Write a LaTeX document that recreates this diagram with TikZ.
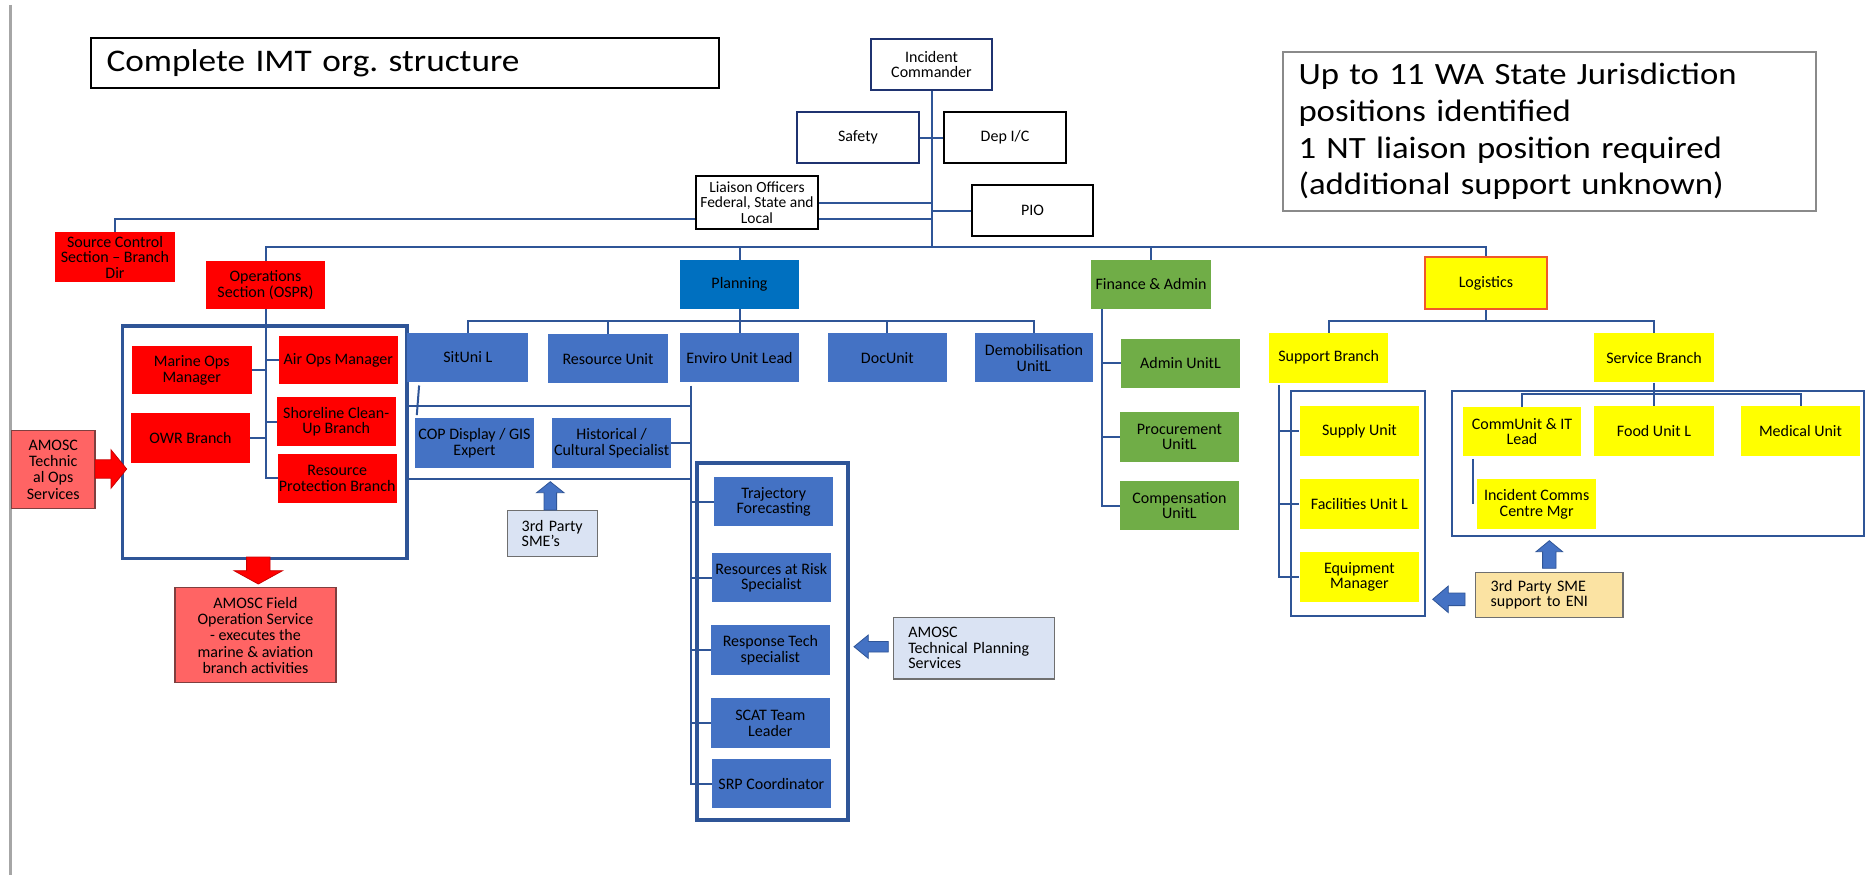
\documentclass[tikz,border=0pt]{standalone}
\usepackage{fontspec}
\setmainfont{Carlito}
\newfontfamily\widefont{Carlito}[FakeStretch=1.12]
\usetikzlibrary{calc}
\frenchspacing

\definecolor{linecol}{HTML}{2F5597}
\definecolor{icnavy}{HTML}{1F3370}
\definecolor{unitblue}{HTML}{4472C4}
\definecolor{planblue}{HTML}{0070C0}
\definecolor{opsred}{HTML}{FF0000}
\definecolor{salmon}{HTML}{FF6464}
\definecolor{salmonedge}{HTML}{7F3F3F}
\definecolor{fingreen}{HTML}{70AD47}
\definecolor{logyellow}{HTML}{FFFF00}
\definecolor{logborder}{HTML}{F0582A}
\definecolor{paleblue}{HTML}{DAE3F3}
\definecolor{tanfill}{HTML}{FBE3A3}
\definecolor{edgegray}{HTML}{6F6F6F}
\definecolor{notegray}{HTML}{8A8A8A}

% box placed by its corner coordinates: name, style, x1, y1, x2, y2, text
\newcommand\boxat[7]{\node[#2, minimum width={#5-#3}, minimum height={#6-#4}] (#1) at ({(#3+#5)/2},{(#4+#6)/2}) {#7};}
% horizontal block arrow: x-start, x-tip, y, shaft half, head half, signed head length, style
\newcommand\blockh[7]{\filldraw[#7] ({#1},{#3-#4}) -- ({#2-(#6)},{#3-#4}) -- ({#2-(#6)},{#3-#5}) -- ({#2},{#3}) -- ({#2-(#6)},{#3+#5}) -- ({#2-(#6)},{#3+#4}) -- ({#1},{#3+#4}) -- cycle;}
% vertical block arrow: y-start, y-tip, x, shaft half, head half, signed head length, style
\newcommand\blockv[7]{\filldraw[#7] ({#3-#4},{#1}) -- ({#3-#4},{#2-(#6)}) -- ({#3-#5},{#2-(#6)}) -- ({#3},{#2}) -- ({#3+#5},{#2-(#6)}) -- ({#3+#4},{#2-(#6)}) -- ({#3+#4},{#1}) -- cycle;}

\tikzset{
  conn/.style={draw=linecol, line width=2pt},
  base/.style={rectangle, inner sep=1pt, align=center, text=black, font=\fontsize{16}{15.5}\selectfont},
  outline/.style={base, draw=black, line width=2.5pt, fill=white},
  navyoutline/.style={base, draw=icnavy, line width=2.5pt, fill=white},
  redbox/.style={base, fill=opsred},
  salmonbox/.style={base, fill=salmon, draw=salmonedge, line width=1.2pt, font=\fontsize{16}{16.3}\selectfont},
  bluebox/.style={base, fill=unitblue},
  planbox/.style={base, fill=planblue},
  greenbox/.style={base, fill=fingreen},
  yellowbox/.style={base, fill=logyellow},
  logbox/.style={base, fill=logyellow, draw=logborder, line width=2pt},
  palebox/.style={base, fill=paleblue, draw=edgegray, line width=1.3pt, align=left, inner xsep=0pt},
  tanbox/.style={base, fill=tanfill, draw=edgegray, line width=1.3pt, align=left, inner xsep=0pt},
  grpthick/.style={rectangle, draw=linecol, line width=3.3pt, inner sep=0pt},
  grpthin/.style={rectangle, draw=linecol, line width=2pt, inner sep=0pt},
  redarrow/.style={fill=opsred, draw=opsred!80!black, line width=0.8pt},
  bluearrow/.style={fill=unitblue, draw=linecol, line width=0.8pt},
  leftrule/.style={draw=black!35, line width=3pt}
}

\begin{document}
\begin{tikzpicture}[x=1pt,y=-1pt]
\useasboundingbox (0,0) rectangle (1868,875);
\fill[white] (0,0) rectangle (1868,875);
\draw[leftrule] (10,5) -- (10,875);

% frames around the sub-teams
\boxat{opsgrp}{grpthick}{122.6}{326}{407}{558.3}{}
\boxat{plangrp}{grpthin}{408}{405.7}{691}{479}{}
\boxat{trajgrp}{grpthick}{697}{463}{848}{820}{}
\boxat{suppgrp}{grpthin}{1291}{390.7}{1425}{616.3}{}
\boxat{servgrp}{grpthin}{1451.5}{390.7}{1864}{536}{}

% heading and note
\node[draw=black, line width=1.5pt, minimum width=628, minimum height=50, inner xsep=15.5pt,
      text width=597pt, align=left, font=\widefont\fontsize{31.5}{36}\selectfont] (title) at (405,63)
      {Complete IMT org. structure};
\node[draw=notegray, line width=1.8pt, minimum width=533, minimum height=159, inner xsep=15.5pt,
      text width=502pt, align=left, font=\widefont\fontsize{31}{36.7}\selectfont] (note) at (1549.5,131.5)
      {Up to 11 WA State Jurisdiction\\positions identified\\1 NT liaison position required\\(additional support unknown)};

% command staff
\boxat{ic}{navyoutline}{871}{39}{992}{90}{Incident\\Commander}
\boxat{safety}{navyoutline}{797}{112}{919}{163}{Safety}
\boxat{dep}{outline}{944}{112}{1066}{163}{Dep I/C}
\boxat{liaison}{outline, font=\fontsize{15.5}{15.3}\selectfont}{696}{176}{818}{229}{Liaison Officers\\Federal, State and\\Local}
\boxat{pio}{outline}{972}{185}{1093}{236}{PIO}

% sections
\boxat{src}{redbox}{55}{232}{175}{282}{Source Control\\Section – Branch\\Dir}
\boxat{ops}{redbox}{206}{261}{325}{309}{Operations\\Section (OSPR)}
\boxat{plan}{planbox}{680}{260}{799}{309}{Planning}
\boxat{fin}{greenbox}{1091}{260}{1211}{309}{Finance \& Admin}
\boxat{logi}{logbox}{1424.5}{257.3}{1547.4}{309.3}{Logistics}

% operations
\boxat{marine}{redbox}{131.8}{346}{251.6}{394.3}{Marine Ops\\Manager}
\boxat{airops}{redbox}{278.7}{336}{398}{384.3}{Air Ops Manager}
\boxat{owr}{redbox}{131}{412.7}{250}{462.7}{OWR Branch}
\boxat{shore}{redbox}{276.7}{397.3}{395.7}{445.7}{Shoreline Clean-\\Up Branch}
\boxat{resprot}{redbox}{277.7}{454}{396.7}{502.7}{Resource\\Protection Branch}
\boxat{techops}{salmonbox}{11.5}{430.7}{95}{508.3}{AMOSC\\Technic\\al Ops\\Services}
\boxat{fieldops}{salmonbox}{175}{587.7}{336}{682.7}{AMOSC Field\\Operation Service\\- executes the\\marine \& aviation\\branch activities}

% planning
\boxat{sitl}{bluebox}{407.3}{332.7}{528.3}{382.3}{SitUni L}
\boxat{resu}{bluebox}{548.3}{334.3}{667.7}{383.3}{Resource Unit}
\boxat{envl}{bluebox}{680}{332.7}{799}{382.3}{Enviro Unit Lead}
\boxat{docu}{bluebox}{827.7}{333.3}{947}{382.3}{DocUnit}
\boxat{demob}{bluebox}{974.6}{333.3}{1093.3}{382.3}{Demobilisation\\UnitL}
\boxat{cop}{bluebox}{415}{418.3}{534}{467.7}{COP Display / GIS\\Expert}
\boxat{hist}{bluebox}{552.3}{418.3}{671}{467.7}{Historical /\\Cultural Specialist}
\boxat{traj}{bluebox}{714}{477.3}{833.3}{526}{Trajectory\\Forecasting}
\boxat{rar}{bluebox}{711.7}{553.3}{831}{602}{Resources at Risk\\Specialist}
\boxat{rts}{bluebox}{710.7}{625.3}{830}{675}{Response Tech\\specialist}
\boxat{scat}{bluebox}{710.7}{698.3}{830}{748.3}{SCAT Team\\Leader}
\boxat{srp}{bluebox}{711.7}{759}{831}{808.3}{SRP Coordinator}
\boxat{sme}{palebox, text width=61.6pt}{507.3}{510.7}{597.7}{556.7}{3rd Party\\SME’s}
\boxat{amtps}{palebox, text width=131pt}{893.3}{617.7}{1054.3}{679}{AMOSC\\Technical Planning\\Services}

% finance
\boxat{admin}{greenbox}{1121.2}{339}{1239.8}{387.7}{Admin UnitL}
\boxat{proc}{greenbox}{1120}{412.3}{1238.8}{461.7}{Procurement\\UnitL}
\boxat{comp}{greenbox}{1120}{481}{1238.8}{530}{Compensation\\UnitL}

% logistics
\boxat{supp}{yellowbox}{1269}{332.7}{1388.3}{382.7}{Support Branch}
\boxat{serv}{yellowbox}{1594.3}{332.7}{1713.7}{382.3}{Service Branch}
\boxat{supply}{yellowbox}{1299.6}{406}{1419.2}{455.7}{Supply Unit}
\boxat{facil}{yellowbox}{1299.6}{479}{1419.2}{528.7}{Facilities Unit L}
\boxat{equip}{yellowbox}{1299.6}{552.3}{1419.2}{601.7}{Equipment\\Manager}
\boxat{comm}{yellowbox}{1463.3}{407.3}{1580.7}{455.7}{CommUnit \& IT\\Lead}
\boxat{food}{yellowbox}{1594.3}{406}{1713.7}{455.7}{Food Unit L}
\boxat{med}{yellowbox}{1741}{406}{1860}{455.7}{Medical Unit}
\boxat{icc}{yellowbox}{1477.3}{479.3}{1596}{529}{Incident Comms\\Centre Mgr}
\boxat{eni}{tanbox, text width=116.9pt}{1475.3}{572.3}{1623}{617.5}{3rd Party SME\\support to ENI}

% block arrows
\blockh{95}{126.7}{469}{9.2}{19.2}{15.7}{redarrow}
\blockv{557}{584}{258.3}{11.7}{24.2}{13.3}{redarrow}
\blockv{510}{481.7}{550.3}{6.3}{13.7}{-11}{bluearrow}
\blockh{888.3}{854}{646.7}{5.3}{11.7}{-14.3}{bluearrow}
\blockv{568.3}{540.7}{1549.3}{6.7}{13.3}{-11}{bluearrow}
\blockh{1465}{1432.7}{599.3}{6.3}{13.3}{-15.6}{bluearrow}

% command connectors
\coordinate (bus) at (0,247);
\draw[conn] (ic.south) -- (ic.south |- bus);
\draw[conn] (ops.north) |- (logi.north |- bus) -- (logi.north);
\draw[conn] (plan.north) -- (plan.north |- bus);
\draw[conn] (fin.north) -- (fin.north |- bus);
\draw[conn] (safety.east) -- (dep.west);
\draw[conn] (liaison.east) -- (liaison.east -| ic.south);
\coordinate (lo) at (0,219);
\draw[conn] (src.north) |- (liaison.west |- lo);
\draw[conn] (liaison.east |- lo) -- (ic.south |- lo);
\draw[conn] (pio.west) -- (pio.west -| ic.south);

% operations connectors
\draw[conn] (ops.south) |- (resprot.west);
\draw[conn] (marine.east) -- (marine.east -| ops.south);
\draw[conn] (owr.east) -- (owr.east -| ops.south);
\draw[conn] (airops.west -| ops.south) -- (airops.west);
\draw[conn] (shore.west -| ops.south) -- (shore.west);

% planning connectors
\coordinate (pbus) at (0,321);
\draw[conn] (plan.south) -- (plan.south |- pbus);
\draw[conn] (sitl.north) |- (demob.north |- pbus) -- (demob.north);
\foreach \n in {resu,envl,docu} \draw[conn] (\n.north) -- (\n.north |- pbus);
\coordinate (ebr) at ($(envl.south west)+(11,3)$);
\draw[conn] (ebr) |- (srp.west);
\foreach \n in {traj,rar,rts,scat} \draw[conn] (\n.west -| ebr) -- (\n.west);
\draw[conn] (hist.east) -- (hist.east -| ebr);
\draw[conn] ($(sitl.south west)+(12,3)$) -- ($(cop.north west)+(2,-3)$);

% finance connectors
\coordinate (fbr) at ($(fin.south west)+(11,0)$);
\draw[conn] (fbr) |- (comp.west);
\foreach \n in {admin,proc} \draw[conn] (\n.west -| fbr) -- (\n.west);

% logistics connectors
\coordinate (lbus) at (0,320.5);
\draw[conn] (logi.south) -- (logi.south |- lbus);
\draw[conn] (supp.north) |- (serv.north |- lbus) -- (serv.north);
\coordinate (sbr) at ($(supp.south west)+(10.5,2.5)$);
\draw[conn] (sbr) |- (equip.west);
\foreach \n in {supply,facil} \draw[conn] (\n.west -| sbr) -- (\n.west);
\coordinate (sbus) at (0,394);
\draw[conn] (serv.south) -- (serv.south |- sbus);
\draw[conn] (comm.north) |- (med.north |- sbus) -- (med.north);
\draw[conn] (food.north) -- (food.north |- sbus);
\draw[conn] ($(comm.south west)+(10,3)$) -- ($(comm.south west)+(10,48)$);
\end{tikzpicture}
\end{document}
